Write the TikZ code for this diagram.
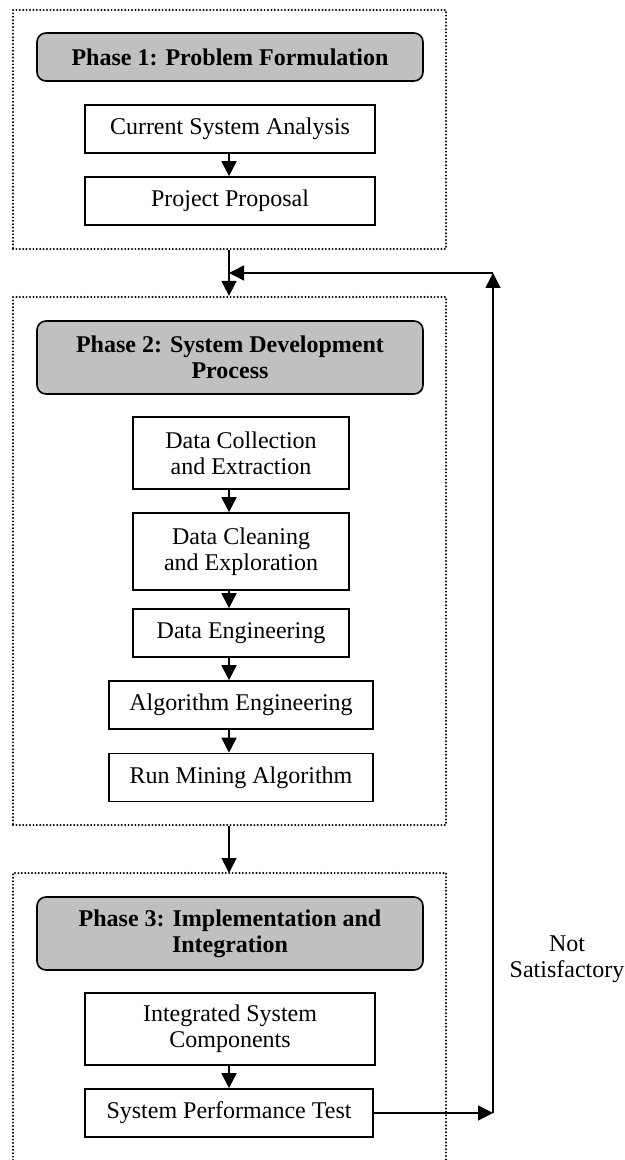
\documentclass[tikz,border=0pt]{standalone}
\usepackage{fontspec}
\setmainfont{Liberation Serif}
\usetikzlibrary{arrows.meta}
\definecolor{hdrgray}{HTML}{C0C0C0}
\tikzset{
  dotline/.style={line width=1.1bp, line cap=round, dash pattern=on 0bp off 1.7bp},
  frame/.style={draw, dotline, inner sep=0pt},
  hdr/.style={draw, line width=0.8bp, fill=hdrgray, rounded corners=4.5bp, minimum width=193bp,
    align=center, inner sep=0pt, font=\bfseries\fontsize{12bp}{13bp}\selectfont},
  stepbox/.style={draw, line width=0.8bp, fill=white, align=center, inner sep=0pt,
    font=\fontsize{12bp}{13bp}\selectfont},
  arr/.style={line width=0.75bp, -{Triangle[length=7.5bp,width=7.5bp]}},
  lbl/.style={align=center, inner sep=0pt, font=\fontsize{12bp}{13bp}\selectfont}
}
\begin{document}
\begin{tikzpicture}[x=0.5bp,y=-0.5bp]
\useasboundingbox (0,0) rectangle (624,1160);
\coordinate (spine) at (229,0);
% Phase 1
\node[frame, minimum width=216.5bp, minimum height=119.5bp] (p1) at (229.5,129.5) {};
\node[hdr, minimum height=24bp] (h1) at (230,57) {Phase 1: Problem Formulation};
\node[stepbox, minimum width=145bp, minimum height=24bp] (csa) at (230,129) {Current System Analysis};
\node[stepbox, minimum width=145bp, minimum height=24bp] (pp) at (230,201) {Project Proposal};
\draw[arr] (csa.south -| spine) -- (pp.north -| spine);
% Phase 2
\node[frame, minimum width=216.5bp, minimum height=264bp] (p2) at (229.5,561) {};
\node[hdr, minimum height=36.5bp] (h2) at (230,357.5) {Phase 2: System Development\\Process};
\node[stepbox, minimum width=108bp, minimum height=36bp] (dc) at (241,453) {Data Collection\\and Extraction};
\node[stepbox, minimum width=108bp, minimum height=38.5bp] (dcl) at (241,551.5) {Data Cleaning\\and Exploration};
\node[stepbox, minimum width=108bp, minimum height=24bp] (de) at (241,633) {Data Engineering};
\node[stepbox, minimum width=132bp, minimum height=24bp] (ae) at (241,705) {Algorithm Engineering};
\node[stepbox, minimum width=132bp, minimum height=24bp] (rma) at (241,777.5) {Run Mining Algorithm};
\draw[arr] (dc.south -| spine) -- (dcl.north -| spine);
\draw[arr] (dcl.south -| spine) -- (de.north -| spine);
\draw[arr] (de.south -| spine) -- (ae.north -| spine);
\draw[arr] (ae.south -| spine) -- (rma.north -| spine);
\draw[arr] (p1.south -| spine) -- (p2.north -| spine);
% Phase 3
\coordinate (p3top) at (229.5,873);
\draw[dotline] (13,1160) -- (13,873) -- (446,873) -- (446,1160);
\node[hdr, minimum height=36.5bp] (h3) at (230,933.5) {Phase 3: Implementation and\\Integration};
\node[stepbox, minimum width=145bp, minimum height=36bp] (isc) at (230,1029) {Integrated System\\Components};
\node[stepbox, minimum width=144bp, minimum height=24bp] (spt) at (229,1113) {System Performance Test};
\draw[arr] (isc.south -| spine) -- (spt.north -| spine);
\draw[arr] (p2.south -| spine) -- (p3top -| spine);
% Feedback loop
\coordinate (fbtop) at (493,273);
\coordinate (fbbot) at (spt.east -| fbtop);
\draw[arr] (spt.east) -- (fbbot);
\draw[arr] (fbbot) -- (fbtop);
\draw[arr] (fbtop) -- (fbtop -| spine);
\node[lbl] (ns) at (567,959) {Not\\Satisfactory};
\end{tikzpicture}
\end{document}
